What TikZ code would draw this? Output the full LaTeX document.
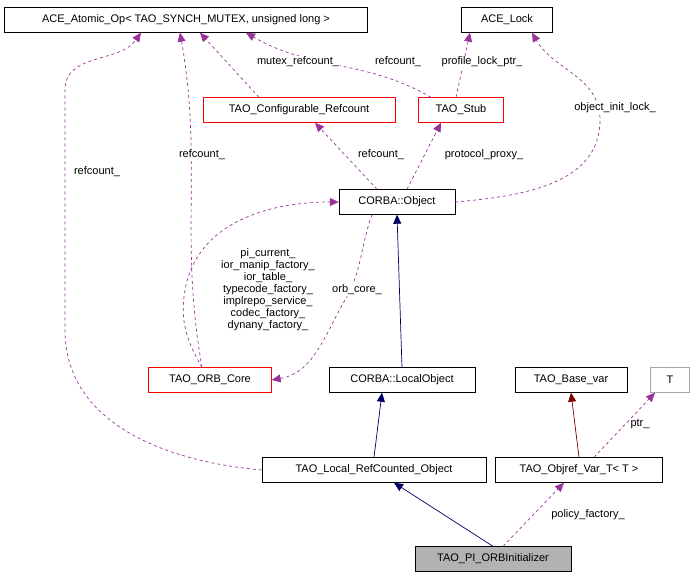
\documentclass[tikz,border=0pt]{standalone}
\usepackage{fontspec}
\setmainfont{Liberation Sans}
\usetikzlibrary{arrows.meta}
\tikzset{
  cls/.style={draw=black, fill=white, minimum height=25pt, inner xsep=4pt, font=\fontsize{11}{12}\selectfont},
  redcls/.style={cls, draw=red},
  grycls/.style={cls, draw=black!35},
  inh/.style={draw=blue!40!black, line width=0.7pt, -{Triangle[length=9pt,width=8pt]}},
  inhred/.style={draw=red!50!black, line width=0.7pt, -{Triangle[length=9pt,width=8pt]}},
  use/.style={draw=violet!80!white, line width=0.7pt, dashed, -{Triangle[length=9pt,width=8pt]}},
  lbl/.style={font=\fontsize{11}{12}\selectfont, fill=white, inner sep=1pt}
}
\begin{document}
\begin{tikzpicture}[x=1pt,y=-1pt]
\useasboundingbox (0,0) rectangle (699,579);
% classes
\node[cls, minimum width=363pt] (atomic) at (186,20) {ACE\_Atomic\_Op\textless{} TAO\_SYNCH\_MUTEX, unsigned long \textgreater};
\node[cls, minimum width=91pt] (lock) at (507,20) {ACE\_Lock};
\node[redcls, minimum width=192pt] (confref) at (299,110) {TAO\_Configurable\_Refcount};
\node[redcls, minimum width=85pt] (stub) at (461,110) {TAO\_Stub};
\node[cls, minimum width=116pt] (object) at (397,202) {CORBA::Object};
\node[redcls, minimum width=123pt] (orbcore) at (210,380) {TAO\_ORB\_Core};
\node[cls, minimum width=146pt] (localobj) at (402,380) {CORBA::LocalObject};
\node[cls, minimum width=112pt] (basevar) at (571,380) {TAO\_Base\_var};
\node[grycls, minimum width=39pt] (tparam) at (670,380) {T};
\node[cls, minimum width=224pt] (lrcobj) at (374,470) {TAO\_Local\_RefCounted\_Object};
\node[cls, minimum width=167pt] (objref) at (579,470) {TAO\_Objref\_Var\_T\textless{} T \textgreater};
\node[cls, fill=black!30, minimum width=156pt] (initializer) at (493,559) {TAO\_PI\_ORBInitializer};

% inheritance
\draw[inh] (localobj.north) -- (object.south);
\draw[inh] (lrcobj.north) -- ([xshift=-20pt]localobj.south);
\draw[inh] (initializer.north) -- ([xshift=20pt]lrcobj.south);
\draw[inhred] (objref.north) -- (basevar.south);

% usage
\draw[use] (lrcobj.west) to[out=175,in=-90] (65,330) -- (65,90) to[out=90,in=-125] ([xshift=-45pt]atomic.south);
\draw[use] ([xshift=-8pt]orbcore.north) to[out=100,in=-80] ([xshift=-6pt]atomic.south);
\draw[use] ([xshift=-40pt]confref.north) -- ([xshift=14pt]atomic.south);
\draw[use] ([xshift=-30pt]stub.north) to[out=150,in=-30] ([xshift=60pt]atomic.south);
\draw[use] ([xshift=-5pt]stub.north) -- ([xshift=-37pt]lock.south);
\draw[use] (object.east) to[out=5,in=-90] (600,120) to[out=90,in=-60] ([xshift=25pt]lock.south);
\draw[use] ([xshift=-20pt]object.north) -- ([xshift=16pt]confref.south);
\draw[use] ([xshift=10pt]object.north) -- ([xshift=-20pt]stub.south);
\draw[use] ([xshift=-8pt]orbcore.north) to[out=120,in=-100] (185,290) to[out=80,in=180] (object.west);
\draw[use] ([xshift=-25pt]object.south) to[out=-110,in=60] (345,300) to[out=-120,in=10] (orbcore.east);
\draw[use] ([xshift=15pt]objref.north) -- ([xshift=-15pt]tparam.south);
\draw[use] ([xshift=10pt]initializer.north) -- ([xshift=-15pt]objref.south);

% labels
\node[lbl] (l1) at (97,172) {refcount\_};
\node[lbl] (l2) at (202,155) {refcount\_};
\node[lbl] (l3) at (298,62) {mutex\_refcount\_};
\node[lbl] (l4) at (398,62) {refcount\_};
\node[lbl] (l5) at (482,62) {profile\_lock\_ptr\_};
\node[lbl] (l6) at (615,108) {object\_init\_lock\_};
\node[lbl] (l7) at (381,155) {refcount\_};
\node[lbl] (l8) at (484,155) {protocol\_proxy\_};
\node[lbl, align=center, fill=none] (l9) at (268,290) {pi\_current\_\\ior\_manip\_factory\_\\ior\_table\_\\typecode\_factory\_\\implrepo\_service\_\\codec\_factory\_\\dynany\_factory\_};
\node[lbl] (l10) at (357,290) {orb\_core\_};
\node[lbl] (l11) at (640,424) {ptr\_};
\node[lbl] (l12) at (588,515) {policy\_factory\_};
\end{tikzpicture}
\end{document}
